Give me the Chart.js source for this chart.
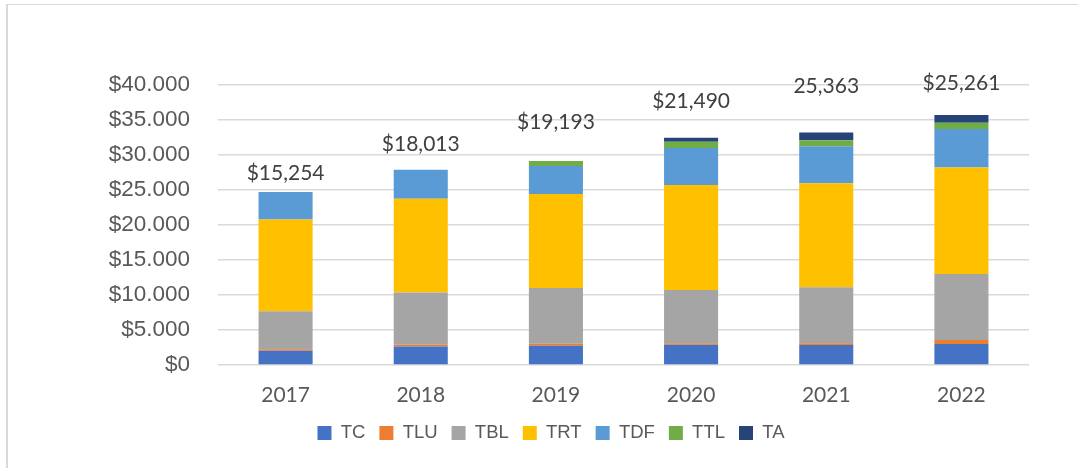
<!DOCTYPE html>
<html>
<head>
<meta charset="utf-8">
<script src="https://cdn.jsdelivr.net/npm/chart.js@4/dist/chart.umd.min.js"></script>
<style>
  html, body { margin: 0; padding: 0; background: #fff; overflow: hidden; }
  body { width: 1078px; height: 468px; position: relative; }
  #frame {
    position: absolute; left: 6px; top: 4px; width: 1090px; height: 470px;
    border-left: 2px solid #d9d9d9; border-top: 1px solid #d9d9d9;
  }
  #wrap { position: absolute; left: 9px; top: 6px; width: 1084px; height: 462px; }
</style>
</head>
<body>
<div id="frame"></div>
<div id="wrap"><canvas id="chart"></canvas></div>
<script>
// stacked bars per year
const years = ['2017', '2018', '2019', '2020', '2021', '2022'];
const tc  = [2040, 2660, 2760, 2900, 2860, 3000];
const tlu = [200, 240, 290, 190, 230, 570];
const tbl = [5430, 7470, 7950, 7630, 8000, 9430];
const trt = [13100, 13380, 13430, 15000, 14860, 15230];
const tdf = [3950, 4140, 4000, 5290, 5290, 5490];
const ttl = [0, 0, 710, 900, 860, 900];
const ta  = [0, 0, 0, 570, 1100, 1100];

// text boxes above the bars (as typed in the original) and the value level they sit at
const topLabels = ['$15,254', '$18,013', '$19,193', '$21,490', '25,363', '$25,261'];
const topLabelAt = [27430, 31570, 34710, 37610, 39760, 40240];

const SERIES = [
  ['TC', tc, '#4472C4'],
  ['TLU', tlu, '#ED7D31'],
  ['TBL', tbl, '#A5A5A5'],
  ['TRT', trt, '#FFC000'],
  ['TDF', tdf, '#5B9BD5'],
  ['TTL', ttl, '#70AD47'],
  ['TA', ta, '#264478'],
];

const datasets = SERIES.map(([label, data, color]) => ({
  label, data, backgroundColor: color, borderWidth: 0,
  barPercentage: 0.4, categoryPercentage: 1,
}));

// dots as thousand separator on the axis: $40.000
const dollars = v => v === 0 ? '$0' : '$' + String(v).replace(/\B(?=(\d{3})+(?!\d))/g, '.');

const topText = {
  id: 'topText',
  afterDatasetsDraw(chart) {
    const { ctx, scales: { x, y } } = chart;
    ctx.save();
    ctx.font = '21px Lato';
    ctx.fillStyle = '#404040';
    ctx.textAlign = 'center';
    ctx.textBaseline = 'middle';
    topLabels.forEach((t, i) => {
      ctx.fillText(t, x.getPixelForValue(i), y.getPixelForValue(topLabelAt[i]));
    });
    ctx.restore();
  }
};

new Chart(document.getElementById('chart'), {
  type: 'bar',
  data: { labels: years, datasets },
  plugins: [topText],
  options: {
    responsive: true,
    maintainAspectRatio: false,
    animation: false,
    layout: { padding: { top: 79, right: 0, bottom: 15.75, left: 0 } },
    plugins: {
      tooltip: { enabled: false },
      legend: {
        position: 'bottom',
        labels: {
          boxWidth: 14, boxHeight: 14, padding: 14,
          color: '#595959',
          font: { family: 'Liberation Sans', size: 18.5 },
        },
      },
    },
    scales: {
      x: {
        stacked: true,
        grid: { display: false },
        border: { display: false },
        ticks: { color: '#595959', padding: 10, font: { family: 'Lato', size: 21 } },
        afterFit: s => { s.height = 44.75; },
      },
      y: {
        stacked: true,
        min: 0, max: 40000,
        grid: { color: '#d9d9d9', lineWidth: 1.5, drawTicks: false },
        border: { display: false },
        ticks: {
          stepSize: 5000, padding: 28, color: '#595959',
          font: { family: 'Liberation Sans', size: 22.5 },
          callback: v => dollars(v),
        },
        afterFit: s => { s.width = 209; },
      },
      // empty right-hand strip so the plot stops short of the edge while the legend stays centred
      yRight: {
        position: 'right',
        grid: { display: false },
        border: { display: false },
        ticks: { display: false },
        afterFit: s => { s.width = 64; },
      },
    },
  },
});
</script>
</body>
</html>
